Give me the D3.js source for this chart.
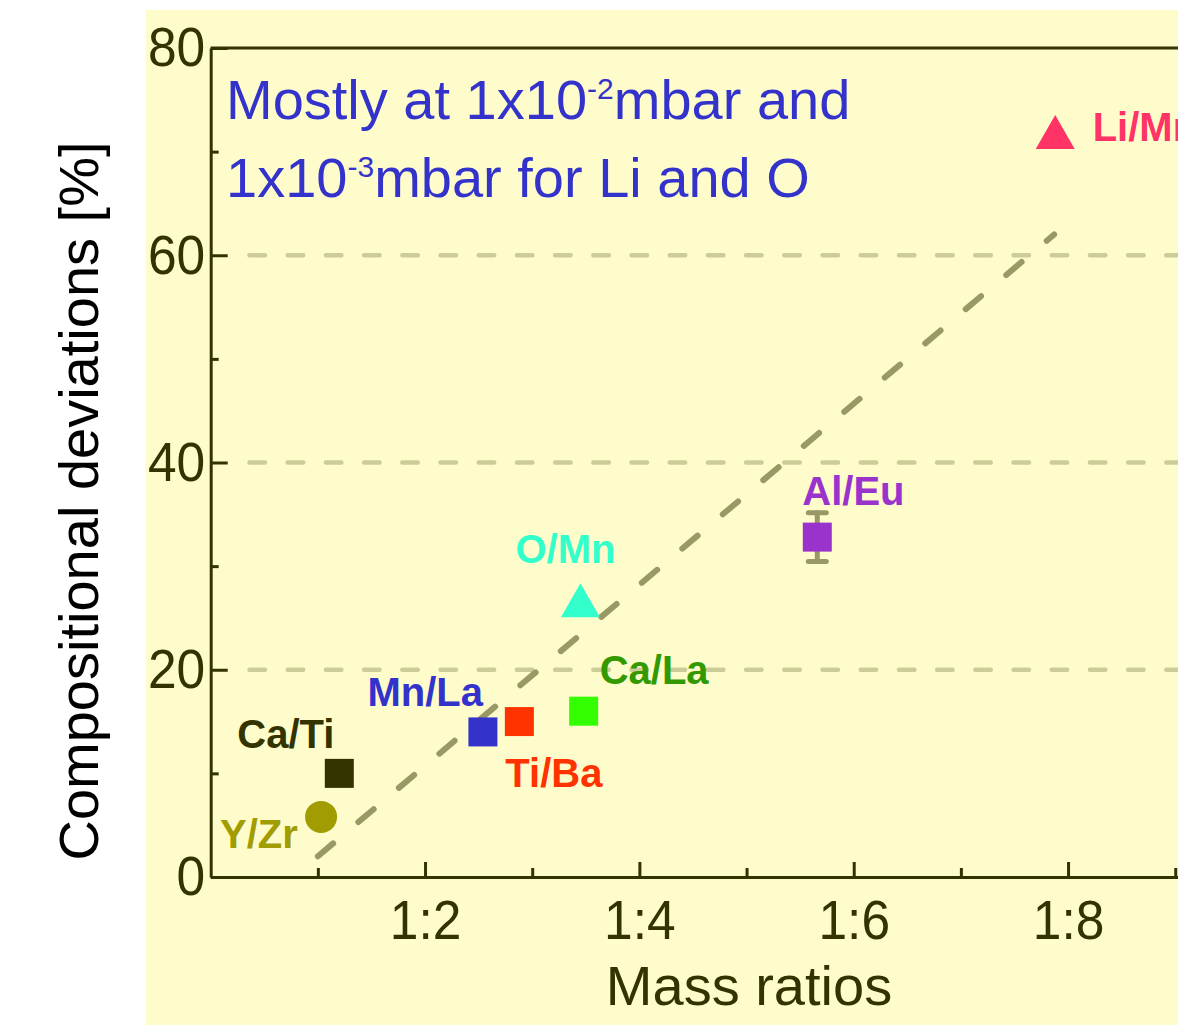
<!DOCTYPE html>
<html>
<head>
<meta charset="utf-8">
<script src="https://cdn.jsdelivr.net/npm/d3@7"></script>
<style>
  html, body { margin: 0; padding: 0; background: #ffffff; }
  svg { display: block; }
  text { font-family: "Liberation Sans", Arial, Helvetica, sans-serif; }
</style>
</head>
<body>
<svg id="chart" width="1178" height="1025"></svg>
<script>
// Element pairs and their mass ratios vs. measured compositional deviation
const samples      = ["Y/Zr", "Ca/Ti", "Mn/La", "Ti/Ba", "Ca/La", "O/Mn", "Al/Eu", "Li/Mn"];
const massRatio    = [1.03, 1.20, 2.54, 2.88, 3.48, 3.45, 5.66, 7.88];
const deviation    = [5.8, 10.0, 14.0, 15.0, 16.0, 26.7, 32.8, 71.9];
const deviationErr = [0, 0, 0, 0, 0, 0, 2.35, 0];
const markerShape  = ["circle", "square", "square", "square", "square", "triangle", "square", "triangle"];
const markerColor  = ["#a19c00", "#333300", "#3333cc", "#ff3300", "#33ff00", "#33ffcc", "#9933cc", "#ff3366"];
const labelColor   = ["#a19c00", "#333300", "#3333cc", "#ff3300", "#339900", "#33ffcc", "#9933cc", "#ff3366"];

// Linear trend guide (mass ratio -> deviation)
const trendX = [1.0, 7.87];
const trendY = [2.0, 62.0];

// Axis ticks
const yMajorTicks = [0, 20, 40, 60, 80];
const yMinorTicks = [10, 30, 50, 70];
const yGridTicks  = [20, 40, 60];
const xMajorTicks = [2, 4, 6, 8];
const xMinorTicks = [1, 3, 5, 7, 9];
const xTickLabel  = d => "1:" + d;

const axisColor = "#333300";
const svg = d3.select("#chart");

// Pale yellow panel behind the figure
svg.append("rect")
  .attr("x", 146).attr("y", 10)
  .attr("width", 1178 - 146).attr("height", 1025 - 10)
  .attr("fill", "#fffccb");

const x = d3.scaleLinear().domain([0, 9.5]).range([210.7, 210.7 + 9.5 * 107.17]);
const y = d3.scaleLinear().domain([0, 80]).range([877, 48]);

// Dashed horizontal guide lines
svg.append("g").selectAll("line")
  .data(yGridTicks)
  .join("line")
  .attr("x1", 249.5).attr("x2", 1200)
  .attr("y1", d => y(d)).attr("y2", d => y(d))
  .attr("stroke", "#cccc99")
  .attr("stroke-width", 4.5)
  .attr("stroke-linecap", "round")
  .attr("stroke-dasharray", "15.5 22.7");

// Trend line
svg.append("line")
  .attr("x1", x(trendX[0])).attr("y1", y(trendY[0]))
  .attr("x2", x(trendX[1])).attr("y2", y(trendY[1]))
  .attr("stroke", "#999966")
  .attr("stroke-width", 6)
  .attr("stroke-linecap", "round")
  .attr("stroke-dasharray", "20 33");

// Frame: top border
svg.append("line")
  .attr("x1", x(0)).attr("x2", 1200)
  .attr("y1", y(80)).attr("y2", y(80))
  .attr("stroke", axisColor).attr("stroke-width", 3);

// Y axis
const yAxis = svg.append("g")
  .attr("transform", `translate(${x(0)},0)`)
  .call(d3.axisLeft(y).tickValues(yMajorTicks).tickSize(-17).tickSizeOuter(0).tickPadding(6));
yAxis.append("g")
  .call(d3.axisLeft(y).tickValues(yMinorTicks).tickSize(-8).tickSizeOuter(0).tickFormat(""))
  .select(".domain").remove();
yAxis.selectAll(".tick text")
  .attr("font-size", 56)
  .attr("fill", axisColor)
  .attr("transform", "scale(0.92,1)");

// X axis
const xAxis = svg.append("g")
  .attr("transform", `translate(0,${y(0)})`)
  .call(d3.axisBottom(x).tickValues(xMajorTicks).tickSize(-15).tickSizeOuter(0).tickPadding(22).tickFormat(xTickLabel));
xAxis.append("g")
  .call(d3.axisBottom(x).tickValues(xMinorTicks).tickSize(-9).tickSizeOuter(0).tickFormat(""))
  .select(".domain").remove();
xAxis.selectAll(".tick text")
  .attr("font-size", 56)
  .attr("fill", axisColor)
  .attr("transform", "scale(0.92,1)");

svg.selectAll(".domain").attr("stroke", axisColor).attr("stroke-width", 3);
svg.selectAll(".tick line").attr("stroke", axisColor).attr("stroke-width", 3);

// Axis titles
svg.append("text")
  .attr("transform", "translate(98,501) rotate(-90)")
  .attr("text-anchor", "middle")
  .attr("font-size", 56)
  .attr("fill", "#000000")
  .text("Compositional deviations [%]");

svg.append("text")
  .attr("x", 749).attr("y", 1005)
  .attr("text-anchor", "middle")
  .attr("font-size", 56)
  .attr("fill", axisColor)
  .text("Mass ratios");

// Error bars
const points = samples.map((s, i) => ({
  name: s, mx: massRatio[i], dev: deviation[i], err: deviationErr[i],
  shape: markerShape[i], color: markerColor[i], lcolor: labelColor[i]
}));

const eb = svg.append("g").attr("stroke", "#999966").attr("stroke-width", 5).attr("stroke-linecap", "round");
points.filter(p => p.err > 0).forEach(p => {
  const cx = x(p.mx);
  eb.append("line").attr("x1", cx).attr("x2", cx).attr("y1", y(p.dev - p.err)).attr("y2", y(p.dev + p.err));
  eb.append("line").attr("x1", cx - 9).attr("x2", cx + 9).attr("y1", y(p.dev - p.err)).attr("y2", y(p.dev - p.err));
  eb.append("line").attr("x1", cx - 9).attr("x2", cx + 9).attr("y1", y(p.dev + p.err)).attr("y2", y(p.dev + p.err));
});

// Markers
const mk = svg.append("g");
points.forEach(p => {
  const cx = x(p.mx), cy = y(p.dev);
  if (p.shape === "circle") {
    mk.append("circle").attr("cx", cx).attr("cy", cy).attr("r", 16).attr("fill", p.color);
  } else if (p.shape === "square") {
    mk.append("rect").attr("x", cx - 14.5).attr("y", cy - 14.5).attr("width", 29).attr("height", 29).attr("fill", p.color);
  } else {
    const w = 39, h = 34;
    mk.append("path")
      .attr("d", `M${cx},${cy - h / 2}L${cx + w / 2},${cy + h / 2}L${cx - w / 2},${cy + h / 2}Z`)
      .attr("fill", p.color);
  }
});

// Point labels, offset from each marker
const labelOffset = {
  "Y/Zr": [-101, 31], "Ca/Ti": [-102, -25], "Mn/La": [-115.5, -26], "Ti/Ba": [-14, 65],
  "Ca/La": [16, -27], "O/Mn": [-65, -37], "Al/Eu": [-15, -32], "Li/Mn": [37.5, 9.5]
};
svg.append("g").selectAll("text")
  .data(points)
  .join("text")
  .attr("x", p => x(p.mx) + labelOffset[p.name][0])
  .attr("y", p => y(p.dev) + labelOffset[p.name][1])
  .attr("font-size", 40)
  .attr("font-weight", "bold")
  .attr("fill", p => p.lcolor)
  .text(p => p.name);

// Pressure note
const note = svg.append("g").attr("fill", "#3333cc").attr("font-size", 56);
const l1 = note.append("text").attr("x", 226).attr("y", 119);
l1.append("tspan").text("Mostly at 1x10");
l1.append("tspan").attr("font-size", 30).attr("dy", -20).text("-2");
l1.append("tspan").attr("dy", 20).text("mbar and");
const l2 = note.append("text").attr("x", 226).attr("y", 197);
l2.append("tspan").text("1x10");
l2.append("tspan").attr("font-size", 30).attr("dy", -20).text("-3");
l2.append("tspan").attr("dy", 20).text("mbar for Li and O");
</script>
</body>
</html>
